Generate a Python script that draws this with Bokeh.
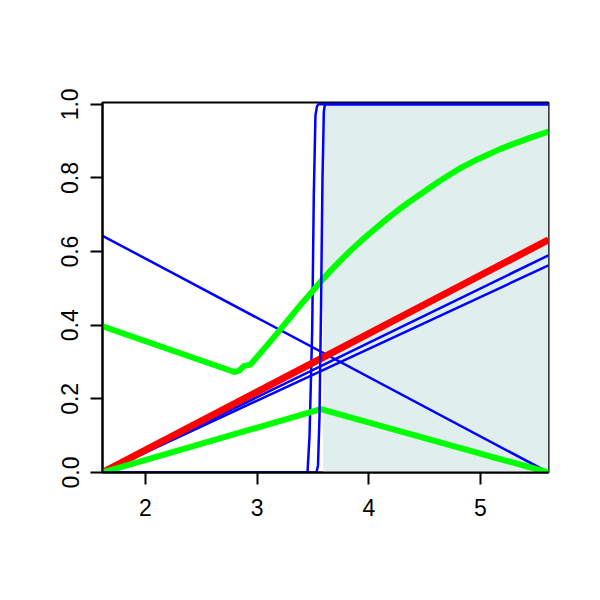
from bokeh.plotting import figure
from bokeh.embed import file_html
from bokeh.resources import INLINE
from bokeh.models import Range1d, FixedTicker, PrintfTickFormatter

# ---- data ----
x_min, x_max = 1.615, 5.609
y_min, y_max = 0.0, 1.005

shade_x = [3.59, 5.609]
shade_y = [0.0, 1.0]

stepA_x = [1.615, 3.451, 3.469, 3.493, 3.507, 3.522, 3.536, 3.549, 5.609]
stepA_y = [0.0, 0.0, 0.10, 0.39, 0.75, 0.97, 0.995, 1.0, 1.0]

stepB_x = [1.615, 3.531, 3.545, 3.558, 3.572, 3.585, 3.597, 3.607, 5.609]
stepB_y = [0.0, 0.0, 0.02, 0.15, 0.45, 0.80, 0.98, 1.0, 1.0]

blue_down_x = [1.615, 5.609]
blue_down_y = [0.643, 0.0]

blue_up1_x = [1.615, 5.609]
blue_up1_y = [0.0, 0.59]

blue_up2_x = [1.615, 5.609]
blue_up2_y = [0.0, 0.5625]

red_x = [1.615, 5.609]
red_y = [0.0, 0.632]

green_hi_x = [1.615, 2.777, 2.80, 2.84, 2.88, 2.94, 3.149, 3.388, 3.48, 3.57, 3.66,
              3.75, 3.84, 3.95, 4.06, 4.17, 4.28, 4.40, 4.51, 4.62, 4.73,
              4.84, 4.955, 5.07, 5.18, 5.29, 5.40, 5.50, 5.609]
green_hi_y = [0.397, 0.275, 0.273, 0.277, 0.289, 0.293, 0.367, 0.455, 0.487, 0.519, 0.549,
              0.577, 0.604, 0.634, 0.663, 0.691, 0.717, 0.743, 0.766, 0.789, 0.810,
              0.830, 0.848, 0.864, 0.879, 0.892, 0.904, 0.915, 0.926]

green_lo_x = [1.615, 3.57, 5.609]
green_lo_y = [0.0, 0.172, 0.0]

x_ticks = [2, 3, 4, 5]
y_ticks = [0.0, 0.2, 0.4, 0.6, 0.8, 1.0]

# ---- figure ----
p = figure(width=584, height=584, output_backend="svg", toolbar_location=None,
           x_range=Range1d(x_min, x_max), y_range=Range1d(y_min, y_max),
           min_border_left=102, min_border_right=36, min_border_top=102, min_border_bottom=112)
p.grid.visible = False
p.background_fill_color = "white"
p.border_fill_color = "white"
p.outline_line_color = "black"
p.outline_line_width = 2
p.outline_line_alpha = 1.0

p.quad(left=[shade_x[0]], right=[shade_x[1]], bottom=[shade_y[0]], top=[shade_y[1]],
       fill_color="#E0EEEE", line_color=None)

p.line(blue_down_x, blue_down_y, color="#0000FF", line_width=2.5)
p.line(blue_up1_x, blue_up1_y, color="#0000FF", line_width=2.5)
p.line(blue_up2_x, blue_up2_y, color="#0000FF", line_width=2.5)
p.line(stepA_x, stepA_y, color="#0000FF", line_width=2.5)
p.line(red_x, red_y, color="#FF0000", line_width=7, line_join="round")
p.line(green_lo_x, green_lo_y, color="#00FF00", line_width=6, line_join="round")
p.line(green_hi_x, green_hi_y, color="#00FF00", line_width=6, line_join="round")
p.line(stepB_x, stepB_y, color="#0000FF", line_width=2.5)

for ax in (p.xaxis[0], p.yaxis[0]):
    ax.axis_line_color = "black"
    ax.axis_line_width = 2
    ax.major_tick_line_color = "black"
    ax.major_tick_line_width = 2
    ax.major_tick_out = 12
    ax.major_tick_in = 0
    ax.minor_tick_line_color = None
    ax.major_label_text_font = "Liberation Sans"
    ax.major_label_text_font_size = "23px"
    ax.major_label_text_color = "black"

p.xaxis[0].ticker = FixedTicker(ticks=x_ticks)
p.xaxis[0].major_label_standoff = 14
p.yaxis[0].ticker = FixedTicker(ticks=y_ticks)
p.yaxis[0].formatter = PrintfTickFormatter(format="%.1f")
p.yaxis[0].major_label_orientation = "vertical"
p.yaxis[0].major_label_standoff = 12

open("out.html", "w").write(file_html(p, INLINE))
